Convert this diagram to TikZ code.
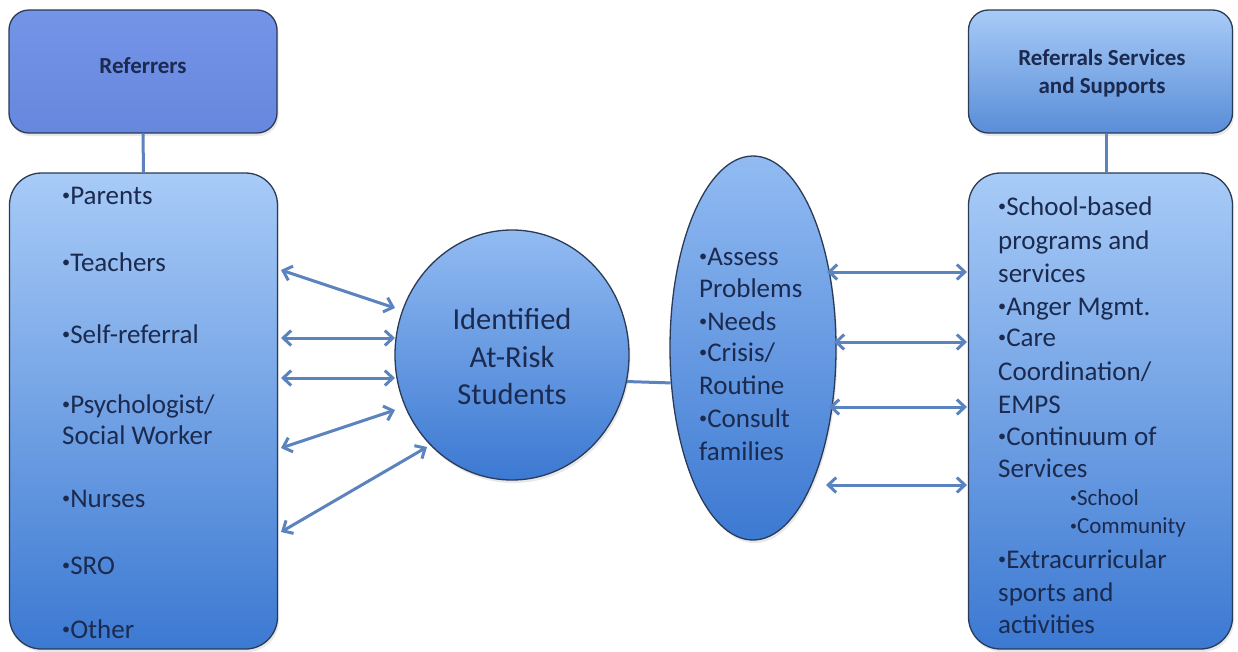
\documentclass[tikz,border=0pt]{standalone}
\usepackage{fontspec}
\setmainfont{Carlito}
\usetikzlibrary{arrows.meta,shapes.geometric,shadows}

\definecolor{ink}{HTML}{1B2A4E}
\definecolor{edgeline}{HTML}{2B3A57}
\definecolor{linkblue}{HTML}{5B83BD}
\definecolor{hdrA}{HTML}{7494E8}
\definecolor{hdrB}{HTML}{6787DE}
\definecolor{paleTop}{HTML}{A8CBF7}
\definecolor{deepBot}{HTML}{3C79D2}
\definecolor{ovalTop}{HTML}{92BBF2}

\newcommand\listfont{\fontsize{27}{33}\selectfont}
\newcommand\subfont{\fontsize{23}{28}\selectfont}
\newcommand\headfont{\fontsize{23}{28}\selectfont\bfseries}
\newcommand\circfont{\fontsize{30.5}{37.5}\selectfont}
% small raised bullet, as set in slide text
\newcommand\bul{\raisebox{0.14em}{\scalebox{0.6}{•}}}

\begin{document}
\begin{tikzpicture}[x=1pt,y=-1pt,
  every node/.style={text=ink},
  softshadow/.style={drop shadow={opacity=0.18,shadow xshift=1.5pt,shadow yshift=-3pt}},
  shape frame/.style={draw=edgeline,line width=1.3pt,inner sep=0pt,softshadow},
  hdrbox/.style={shape frame,rectangle,rounded corners=20pt,
    minimum width=268pt,minimum height=123pt,align=center,font=\headfont},
  listbox/.style={shape frame,rectangle,rounded corners=32pt,
    minimum width=268pt,minimum height=476pt,
    top color=paleTop,bottom color=deepBot},
  oval/.style={shape frame,ellipse,top color=ovalTop,bottom color=deepBot},
  item/.style={anchor=west,inner sep=0pt,text height=18pt,text depth=4pt,font=\listfont},
  subitem/.style={anchor=west,inner sep=0pt,text height=15pt,text depth=3.5pt,font=\subfont},
  linkline/.style={draw=linkblue,line width=3pt},
  twoway/.style={linkline,{Straight Barb[length=8pt,width=15pt]}-{Straight Barb[length=8pt,width=15pt]}}
]
\useasboundingbox[fill=white] (0,0) rectangle (1238,651);

% ---- left column: referrers ----
\node[hdrbox,top color=hdrA,bottom color=hdrB] (lhdr) at (143,71.5) {};
\node[font=\headfont,inner sep=0pt] (lhdrtext) at (143,66) {Referrers};
\node[listbox] (lbox) at (143.5,411) {};

\foreach \t/\y [count=\i] in {{\bul Parents}/197,{\bul Teachers}/264,{\bul Self-referral}/336,
    {\bul Psychologist/}/406,{Social Worker}/437,{\bul Nurses}/500,{\bul SRO}/567,{\bul Other}/631}
  \node[item] (ref\i) at (62,\y) {\t};

% ---- right column: services and supports ----
\node[hdrbox,minimum width=264pt,top color=paleTop,bottom color=deepBot!85!white]
  (rhdr) at (1100.5,71.5) {};
\node[font=\headfont,align=center,inner sep=0pt] (rhdrtext) at (1102,73)
  {Referrals Services\\and Supports};
\node[listbox,minimum width=264pt] (rbox) at (1100.5,411) {};

\foreach \t/\y [count=\i] in {{\bul School-based}/208,{programs and}/242,{services}/275,
    {\bul Anger Mgmt.}/308,{\bul Care}/339,{Coordination/}/373,{EMPS}/406,
    {\bul Continuum of}/438,{Services}/470,{\bul Extracurricular}/561,
    {sports and}/594,{activities}/626}
  \node[item] (svc\i) at (998,\y) {\t};
\node[subitem] (sub1) at (1070,500) {\bul School};
\node[subitem] (sub2) at (1070,528) {\bul Community};

% ---- centre: students and assessment ----
\node[oval,minimum width=234pt,minimum height=250pt] (circ) at (512,355) {};
\node[align=center,inner sep=0pt,font=\circfont] (circtext) at (512,357)
  {Identified\\At-Risk\\Students};

\node[oval,minimum width=166pt,minimum height=384pt] (ell) at (753,348) {};
\foreach \t/\y [count=\i] in {{\bul Assess}/258,{Problems}/290,{\bul Needs}/323,
    {\bul Crisis/}/354,{Routine}/387,{\bul Consult}/420,{families}/453}
  \node[item] (task\i) at (699,\y) {\t};

% ---- connectors ----
\draw[linkline] (lhdr.south) -- (lbox.north);
\draw[linkline] ([xshift=6pt]rhdr.south) -- ([xshift=6pt]rbox.north);
\draw[linkline] (circ.-13.8) -- (ell.203.2);

% arrows between referrers and students
\coordinate (la1) at (281,270); \coordinate (lb1) at (395,308);
\coordinate (la2) at (281,338); \coordinate (lb2) at (395,338);
\coordinate (la3) at (281,378); \coordinate (lb3) at (395,378);
\coordinate (la4) at (281,448); \coordinate (lb4) at (395,410);
\coordinate (la5) at (281,532); \coordinate (lb5) at (427,447);
\foreach \i in {1,...,5} \draw[twoway] (la\i) -- (lb\i);

% arrows between assessment and services
\coordinate (ra1) at (827,272); \coordinate (rb1) at (967,272);
\coordinate (ra2) at (834,342); \coordinate (rb2) at (967,342);
\coordinate (ra3) at (829,407); \coordinate (rb3) at (967,407);
\coordinate (ra4) at (826,485); \coordinate (rb4) at (967,485);
\foreach \i in {1,...,4} \draw[twoway] (ra\i) -- (rb\i);
\end{tikzpicture}
\end{document}
